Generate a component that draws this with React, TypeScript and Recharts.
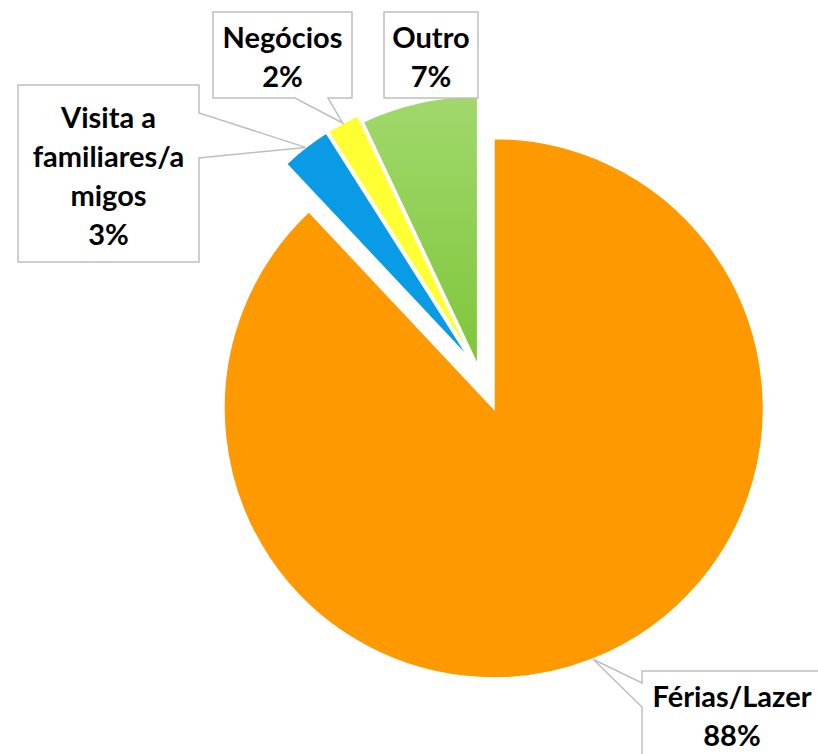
import { Pie, PieChart, Cell, Sector } from "recharts";

const CATEGORIES = ["Férias/Lazer", "Visita a familiares/amigos", "Negócios", "Outro"];
const VALUES = [88, 3, 2, 7];
const COLORS = ["#FF9900", "#0A9BE6", "#FFFF33", "url(#outroGrad)"];
// explosion distance per slice, px along its mid angle
const EXPLODE = [40, 13, 13, 5];

// callout boxes (Excel style), pointer on one side
const CALLOUTS = [
    { x: 642, y: 671, w: 180, h: 86, side: "left", b1: 683, b2: 707, lines: ["Férias/Lazer"] },
    { x: 18, y: 85, w: 181, h: 177, side: "right", b1: 113, b2: 158, lines: ["Visita a", "familiares/a", "migos"] },
    { x: 213, y: 12, w: 139, h: 86, side: "bottom", b1: 295, b2: 328, lines: ["Negócios"] },
    { x: 384, y: 12, w: 94, h: 86, side: null, b1: 0, b2: 0, lines: ["Outro"] },
];

const data = CATEGORIES.map((name, i) => ({ name, value: VALUES[i] }));

const RAD = Math.PI / 180;

function offset(i: number, midAngle: number) {
    const e = EXPLODE[i] ?? 0;
    return { dx: e * Math.cos(-midAngle * RAD), dy: e * Math.sin(-midAngle * RAD) };
}

function ExplodedSector(props: any) {
    const { dx, dy } = offset(props.index, props.midAngle);
    return <Sector {...props} cx={props.cx + dx} cy={props.cy + dy} />;
}

function Callout(props: any) {
    const { index, cx, cy, midAngle, outerRadius, percent } = props;
    const c = CALLOUTS[index];
    const { dx, dy } = offset(index, midAngle);
    const tx = cx + dx + outerRadius * Math.cos(-midAngle * RAD);
    const ty = cy + dy + outerRadius * Math.sin(-midAngle * RAD);
    const { x, y, w, h } = c;
    let d = "";
    if (c.side === "right") {
        d = `M${x},${y} H${x + w} V${c.b1} L${tx},${ty} L${x + w},${c.b2} V${y + h} H${x} Z`;
    } else if (c.side === "bottom") {
        d = `M${x},${y} H${x + w} V${y + h} H${c.b2} L${tx},${ty} L${c.b1},${y + h} H${x} Z`;
    } else if (c.side === "left") {
        d = `M${x},${y} H${x + w} V${y + h} H${x} V${c.b2} L${tx},${ty} L${x},${c.b1} Z`;
    } else {
        d = `M${x},${y} H${x + w} V${y + h} H${x} Z`;
    }
    const lines = [...c.lines, `${Math.round(percent * 100)}%`];
    const lh = 39;
    const mid = y + h / 2 + 1;
    return (
        <g>
            <path d={d} fill="#fff" stroke="#BFBFBF" strokeWidth={1.5} />
            <text
                x={x + w / 2}
                textAnchor="middle"
                fontFamily="Lato, 'Open Sans', sans-serif"
                fontWeight={700}
                fontSize={29}
                fill="#000"
            >
                {lines.map((t, k) => (
                    <tspan key={k} x={x + w / 2} y={mid + (k - (lines.length - 1) / 2) * lh} dominantBaseline="central">
                        {t}
                    </tspan>
                ))}
            </text>
        </g>
    );
}

export default function App() {
    return (
        <div style={{ position: "absolute", left: 0, top: 0, background: "#fff" }}>
            <PieChart width={818} height={754} margin={{ top: 0, right: 0, bottom: 0, left: 0 }}>
                <defs>
                    <linearGradient id="outroGrad" x1="0" y1="0" x2="0" y2="1">
                        <stop offset="0%" stopColor="#A2D86C" />
                        <stop offset="100%" stopColor="#7DC63A" />
                    </linearGradient>
                </defs>
                <Pie
                    data={data}
                    dataKey="value"
                    nameKey="name"
                    cx={479}
                    cy={371}
                    outerRadius={270}
                    startAngle={90}
                    endAngle={-270}
                    stroke="#fff"
                    strokeWidth={2}
                    shape={ExplodedSector}
                    label={Callout}
                    labelLine={false}
                    isAnimationActive={false}
                >
                    {data.map((d, i) => (
                        <Cell key={d.name} fill={COLORS[i]} />
                    ))}
                </Pie>
            </PieChart>
        </div>
    );
}
